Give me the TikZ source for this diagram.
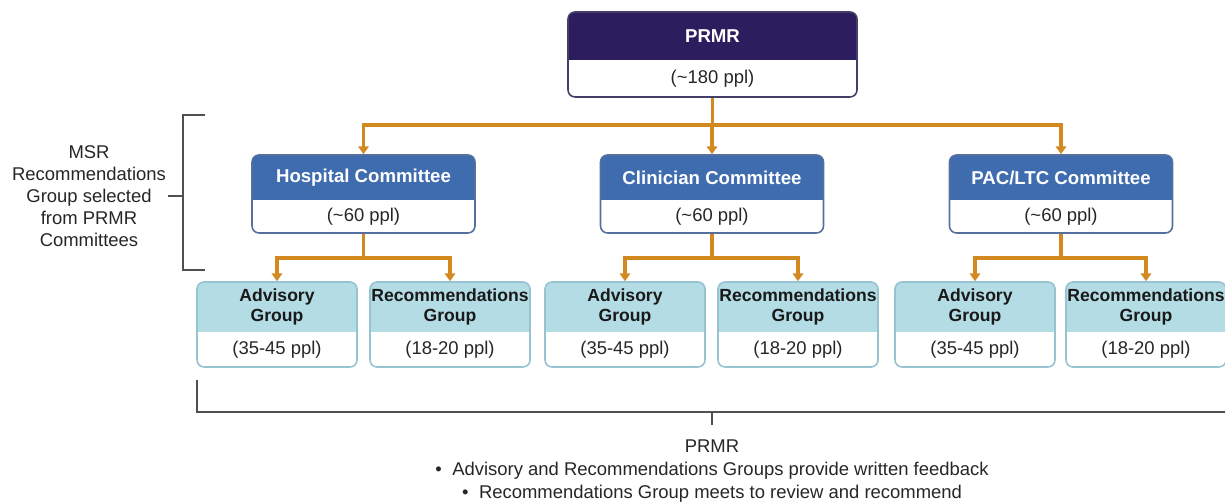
\documentclass[tikz,border=0pt]{standalone}
\usepackage{fontspec}
\setmainfont{Liberation Sans}
\usepackage{xcolor}
\definecolor{tophead}{RGB}{44,30,94}
\definecolor{topline}{RGB}{70,62,105}
\definecolor{comhead}{RGB}{62,108,174}
\definecolor{comline}{RGB}{85,112,158}
\definecolor{grphead}{RGB}{180,220,229}
\definecolor{grpline}{RGB}{150,195,208}
\definecolor{linkorange}{RGB}{210,137,32}
\definecolor{bracegray}{RGB}{80,80,80}
\usepackage{tikz}
\usetikzlibrary{arrows.meta}
% name, x, top, width, header height, total height, colour set, title, head count
\newcommand*\orgbox[9]{
	\begin{scope}
		\clip ({#2-#4/2-3},{#3-3}) rectangle ({#2+#4/2+3},{#3+#5});
		\fill[#7head,rounded corners=4pt] ({#2-#4/2},#3) rectangle ({#2+#4/2},{#3+#6});
	\end{scope}
	\node[draw=#7line,line width=0.9pt,rounded corners=4pt,inner sep=0pt,
		minimum width={#4*0.02cm},minimum height={#6*0.02cm}] (#1) at (#2,{#3+#6/2}) {};
	\node[#7title] (#1-t) at (#2,{#3+#5/2}) {#8};
	\node[count] (#1-s) at (#2,{#3+(#5+#6)/2}) {#9};}
\tikzset{
	toptitle/.style={text=white,font=\bfseries\fontsize{10.6}{12.5}\selectfont},
	comtitle/.style={text=white,font=\bfseries\fontsize{10.6}{12.5}\selectfont},
	grptitle/.style={text=black!90,align=center,font=\bfseries\fontsize{10}{11.4}\selectfont},
	count/.style={text=black!85,font=\fontsize{10.5}{12.5}\selectfont},
	link/.style={draw=linkorange,line width=2.2pt,-{Triangle[width=6pt,length=4.5pt]}},
	brace/.style={draw=bracegray,line width=0.9pt}
}

\begin{document}
\begin{tikzpicture}[x=0.02cm,y=-0.02cm]
	\useasboundingbox (0,0) rectangle (1225,503);
	
	\orgbox{prmr}{712.5}{12}{289}{48}{85}{top}{PRMR}{(\textasciitilde180 ppl)}
	
	\orgbox{hosp}{363.5}{155}{223}{45}{78}{com}{Hospital Committee}{(\textasciitilde60 ppl)}
	\orgbox{clin}{712}{155}{223}{45}{78}{com}{Clinician Committee}{(\textasciitilde60 ppl)}
	\orgbox{pac}{1061}{155}{223}{45}{78}{com}{PAC/LTC Committee}{(\textasciitilde60 ppl)}
	
	\orgbox{hadv}{277}{282}{160}{50}{85}{grp}{Advisory\\Group}{(35-45 ppl)}
	\orgbox{hrec}{450}{282}{160}{50}{85}{grp}{Recommendations\\Group}{(18-20 ppl)}
	\orgbox{cadv}{625}{282}{160}{50}{85}{grp}{Advisory\\Group}{(35-45 ppl)}
	\orgbox{crec}{798}{282}{160}{50}{85}{grp}{Recommendations\\Group}{(18-20 ppl)}
	\orgbox{padv}{975}{282}{160}{50}{85}{grp}{Advisory\\Group}{(35-45 ppl)}
	\orgbox{prec}{1146}{282}{160}{50}{85}{grp}{Recommendations\\Group}{(18-20 ppl)}
	
	\foreach \c in {hosp,clin,pac}
		\draw[link] (prmr.south) -- ++(0,27) -| (\c.north);
	\foreach \c/\a/\b in {hosp/hadv/hrec,clin/cadv/crec,pac/padv/prec} {
		\draw[link] (\c.south) -- ++(0,24) -| (\a.north);
		\draw[link] (\c.south) -- ++(0,24) -| (\b.north);
	}
	
	% left bracket
	\node[align=center,text=black!85,inner sep=1pt,font=\fontsize{10.5}{12.5}\selectfont] (msr) at (89,196)
		{MSR\\Recommendations\\Group selected\\from PRMR\\Committees};
	\draw[brace] (205,115) -| (183,270) -- (205,270);
	\draw[brace] (183,196) -- (msr.east);
	
	% bottom bracket
	\draw[brace] (197,380) |- (1225,412);
	\draw[brace] (712,412) -- (712,425);
	\node[align=center,text=black!85,font=\fontsize{10.5}{13}\selectfont] (feedback) at (712,471)
		{PRMR\\
		\textbullet\hspace{6pt}Advisory and Recommendations Groups provide written feedback\\
		\textbullet\hspace{6pt}Recommendations Group meets to review and recommend};
\end{tikzpicture}
\end{document}
